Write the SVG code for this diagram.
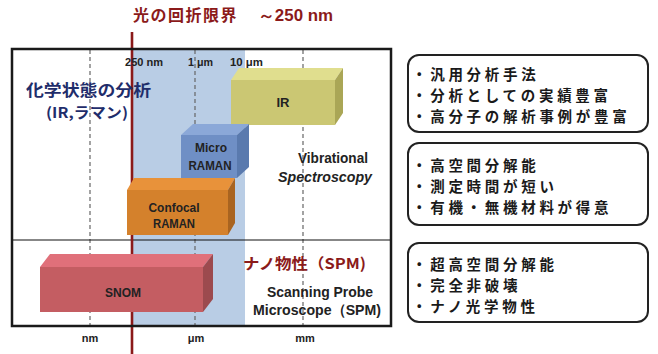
<svg xmlns="http://www.w3.org/2000/svg" width="658" height="354" viewBox="0 0 658 354">
<style>
.cjk{font-family:"Noto Sans CJK JP","Noto Sans",sans-serif;font-weight:bold}
.lat{font-family:"Liberation Sans",Arial,sans-serif;font-weight:bold}
.dash{stroke:#666;stroke-width:1.2;stroke-dasharray:4 3;fill:none}
.box{fill:#fff;stroke:#222;stroke-width:2}
.bl{font-size:14.5px;fill:#1a1a1a;letter-spacing:3.7px}
.ax{font-size:11px;fill:#222}
.lbl{fill:#222;text-anchor:middle}
</style>
<rect width="658" height="354" fill="#fff"/>
<g id="chart-bg">
<rect x="12" y="49" width="379" height="277" fill="#fff"/>
<rect x="133" y="50" width="112" height="275" fill="#b9cde5"/>
</g>
<g id="connectors">
<line class="dash" x1="90" y1="50" x2="90" y2="326"/>
<line class="dash" x1="195" y1="50" x2="195" y2="326"/>
<line class="dash" x1="303" y1="50" x2="303" y2="326"/>
<line x1="12" y1="240" x2="391" y2="240" stroke="#111" stroke-width="1.2"/>
<line x1="132" y1="32" x2="132" y2="354" stroke="#8b1a1a" stroke-width="2.6"/>
</g>
<g id="ir">
<polygon points="231,80 239,68 343,68 335,80" fill="#e0de8e"/>
<polygon points="335,80 343,68 343,113 335,125" fill="#aaa656"/>
<rect x="231" y="80" width="104" height="45" fill="#cbc773"/>
<text class="lat lbl" x="283" y="107" font-size="13">IR</text>
</g>
<g id="micro-raman">
<polygon points="181,135 193,124 249,124 237,135" fill="#8ba8d8"/>
<polygon points="237,135 249,124 249,167 237,178" fill="#5a7aae"/>
<rect x="181" y="135" width="56" height="43" fill="#6f8fc5"/>
<text class="lat lbl" x="211" y="152" font-size="13" textLength="32" lengthAdjust="spacingAndGlyphs">Micro</text>
<text class="lat lbl" x="210" y="170" font-size="13" textLength="43" lengthAdjust="spacingAndGlyphs">RAMAN</text>
</g>
<g id="confocal-raman">
<polygon points="127,190 134,178 235,178 228,190" fill="#e8923a"/>
<polygon points="228,190 235,178 235,223 228,235" fill="#a96420"/>
<rect x="127" y="190" width="101" height="45" fill="#d4812c"/>
<text class="lat lbl" x="174" y="212" font-size="13" textLength="51" lengthAdjust="spacingAndGlyphs">Confocal</text>
<text class="lat lbl" x="174" y="228" font-size="13" textLength="42" lengthAdjust="spacingAndGlyphs">RAMAN</text>
</g>
<g id="snom">
<polygon points="40,267 50,254 213,254 203,267" fill="#e0707a"/>
<polygon points="203,267 213,254 213,299 203,312" fill="#9c4a4e"/>
<rect x="40" y="267" width="163" height="45" fill="#c45d62"/>
<text class="lat lbl" x="123" y="297" font-size="13" textLength="36" lengthAdjust="spacingAndGlyphs">SNOM</text>
</g>
<g id="frame">
<rect x="12" y="49" width="379" height="277" fill="none" stroke="#1a1a1a" stroke-width="2.5"/>
</g>
<g id="labels">
<text class="cjk" x="133" y="21" font-size="16" fill="#8b1a1a" letter-spacing="1.5">光の回折限界</text>
<text class="lat" x="258" y="21" font-size="16" fill="#8b1a1a" textLength="75" lengthAdjust="spacingAndGlyphs">～250 nm</text>
<text class="lat ax" x="125" y="66" textLength="38" lengthAdjust="spacingAndGlyphs">250 nm</text>
<text class="lat ax" x="188" y="66" textLength="25" lengthAdjust="spacingAndGlyphs">1 μm</text>
<text class="lat ax" x="230" y="66" textLength="33" lengthAdjust="spacingAndGlyphs">10 μm</text>
<text class="cjk" x="26" y="96" font-size="16" fill="#1f2d6b" textLength="125" lengthAdjust="spacingAndGlyphs">化学状態の分析</text>
<text class="cjk" x="46" y="118" font-size="14.5" fill="#1f2d6b" textLength="82" lengthAdjust="spacingAndGlyphs">(IR,ラマン)</text>
<text class="lat" x="298" y="163" font-size="15" fill="#222" textLength="70" lengthAdjust="spacingAndGlyphs">Vibrational</text>
<text class="lat" x="278" y="182" font-size="15" fill="#222" font-style="italic" textLength="94" lengthAdjust="spacingAndGlyphs">Spectroscopy</text>
<text class="cjk" x="243" y="269" font-size="15" fill="#8b1a1a" textLength="123" lengthAdjust="spacingAndGlyphs">ナノ物性（SPM)</text>
<text class="lat" x="267" y="297" font-size="15" fill="#222" textLength="106" lengthAdjust="spacingAndGlyphs">Scanning Probe</text>
<text class="lat" x="253" y="315" font-size="15" fill="#222" textLength="128" lengthAdjust="spacingAndGlyphs">Microscope（SPM)</text>
<text class="lat ax" x="90" y="342" text-anchor="middle">nm</text>
<text class="lat ax" x="196" y="342" text-anchor="middle">μm</text>
<text class="lat ax" x="305" y="342" text-anchor="middle">mm</text>
</g>
<g id="note-ir">
<rect class="box" x="408" y="55" width="240" height="77" rx="11"/>
<text class="cjk bl" x="412" y="80">・汎用分析手法</text>
<text class="cjk bl" x="412" y="101">・分析としての実績豊富</text>
<text class="cjk bl" x="412" y="122">・高分子の解析事例が豊富</text>
</g>
<g id="note-raman">
<rect class="box" x="408" y="143" width="240" height="82" rx="11"/>
<text class="cjk bl" x="412" y="171">・高空間分解能</text>
<text class="cjk bl" x="412" y="192">・測定時間が短い</text>
<text class="cjk bl" x="412" y="213">・有機・無機材料が得意</text>
</g>
<g id="note-spm">
<rect class="box" x="408" y="243" width="240" height="79" rx="11"/>
<text class="cjk bl" x="412" y="270">・超高空間分解能</text>
<text class="cjk bl" x="412" y="291">・完全非破壊</text>
<text class="cjk bl" x="412" y="312">・ナノ光学物性</text>
</g>
</svg>
